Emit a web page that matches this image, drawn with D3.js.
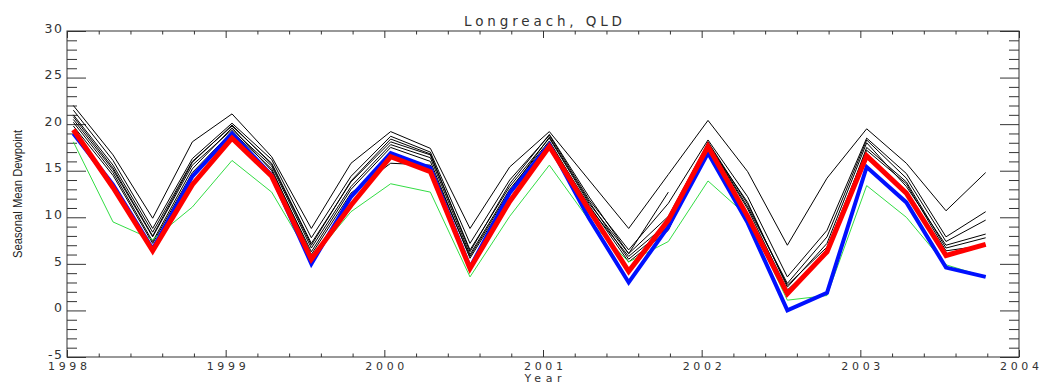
<!DOCTYPE html>
<html>
<head>
<meta charset="utf-8">
<style>
  body { margin: 0; background: white; }
  svg { display: block; }
  .lbl { font-family: "DejaVu Sans", sans-serif; font-weight: normal; fill: #333; }
  .axis path { display: none; }
  .axis line { stroke: #333; }
</style>
<script src="https://cdn.jsdelivr.net/npm/d3@7"></script>
</head>
<body>
<svg id="chart" width="1039" height="385"></svg>
<script>
// season centres (DJF, MAM, JJA, SON) for 1998-2003
let seasons = [1998.04, 1998.29, 1998.54, 1998.79,
               1999.04, 1999.29, 1999.54, 1999.79,
               2000.04, 2000.29, 2000.54, 2000.79,
               2001.04, 2001.29, 2001.54, 2001.79,
               2002.04, 2002.29, 2002.54, 2002.79,
               2003.04, 2003.29, 2003.54, 2003.79]

// ensemble members (thin black)
let black1 = [22.0, 16.7, 9.9, 18.1, 21.1, 16.5, 8.8, 15.8, 19.2, 17.4, 8.8, 15.4, 19.2, 14.0, 8.8, 14.6, 20.4, 14.9, 7.0, 14.2, 19.5, 15.8, 10.7, 14.8]
let black2 = [21.5, 16.1, 8.8, 16.3, 20.1, 16.2, 7.8, 14.4, 18.7, 17.0, 7.2, 14.0, 18.8, 11.9, 6.5, 11.5, 18.3, 12.2, 3.6, 8.6, 18.5, 14.7, 7.9, 10.6]
let black3 = [21.0, 15.6, 8.4, 16.0, 19.8, 15.8, 7.2, 13.8, 18.1, 16.7, 6.5, 13.3, 18.5, 11.5, 6.1, 10.1, 18.0, 11.1, 2.9, 7.9, 18.3, 14.2, 7.4, 9.7]
let black4 = [20.5, 15.1, 7.9, 15.6, 19.4, 15.5, 6.7, 13.3, 17.8, 16.4, 6.0, 13.0, 18.2, 11.1, 5.8, 9.4, 17.8, 11.6, 2.5, 7.2, 18.0, 13.3, 7.0, 8.2]
let black5 = [20.2, 14.8, 7.4, 15.2, 19.6, 15.0, 6.3, 13.0, 17.5, 16.0, 5.6, 12.5, 18.0, 11.3, 5.2, 8.6, 17.9, 10.9, 2.2, 6.1, 17.5, 13.8, 6.7, 7.8]
let black6 = [19.8, 14.5, 7.2, 14.8, 19.2, 15.2, 6.0, 12.6, 15.8, 15.6, 5.8, 12.8, 18.6, 11.7, 5.5, 9.0, 18.1, 11.4, 2.7, 6.8, 17.2, 13.6, 6.4, 7.0]
let black7 = [20.8, 15.3, 8.0, 15.9, 19.9, 15.7, 7.0, 13.9, 18.4, 16.8, 6.3, 13.6, 18.9, 12.2, 6.1, 12.7, null, null, null, null, null, null, null, null]

let green = [18.1, 9.5, 7.6, 11.1, 16.1, 12.7, 5.5, 10.6, 13.6, 12.7, 3.6, 10.1, 15.6, 9.7, 5.2, 7.4, 13.9, 10.1, 1.1, 1.6, 13.4, 10.0, 4.9, 3.6]
let blue  = [19.0, 13.5, 6.6, 14.4, 19.0, 14.5, 5.0, 12.2, 16.9, 15.3, 4.6, 12.6, 17.8, 9.9, 3.0, 9.0, 16.9, 9.4, 0.0, 1.9, 15.4, 11.6, 4.6, 3.6]
let red   = [19.4, 13.2, 6.4, 13.5, 18.5, 14.4, 5.5, 11.3, 16.5, 14.9, 4.5, 11.7, 17.6, 10.8, 4.2, 9.7, 17.6, 10.1, 1.8, 6.3, 16.6, 12.6, 5.9, 7.1]

let yearTicks = [1998, 1999, 2000, 2001, 2002, 2003, 2004]
let dewTicks = [-5, 0, 5, 10, 15, 20, 25, 30]

let svg = d3.select("#chart")
let plotL = 67, plotR = 1019, plotT = 31, plotB = 357

let x = d3.scaleLinear().domain([1998, 2004]).range([plotL, plotR])
let y = d3.scaleLinear().domain([-5, 30]).range([plotB, plotT])

let minorX = d3.range(1998, 2004.001, 0.2).filter(v => Math.abs(v - Math.round(v)) > 0.01)
let minorY = d3.range(-5, 30.001, 1).filter(v => v % 5 != 0)

// frame
svg.append("rect")
   .attr("x", plotL).attr("y", plotT)
   .attr("width", plotR - plotL).attr("height", plotB - plotT)
   .attr("fill", "none").attr("stroke", "#333")

function addAxis(axis, tx, ty, labels) {
  let g = svg.append("g").attr("class", "axis")
     .attr("transform", "translate(" + tx + "," + ty + ")")
     .call(axis)
  if (!labels) g.selectAll("text").remove()
  return g
}

// bottom / top
let xb = addAxis(d3.axisBottom(x).tickValues(yearTicks).tickSize(-7).tickPadding(5).tickFormat(d => d), 0, plotB, true)
xb.selectAll("text").attr("class", "lbl").attr("font-size", 11).attr("textLength", 39).attr("lengthAdjust", "spacing")
addAxis(d3.axisBottom(x).tickValues(minorX).tickSize(-3.5).tickFormat(""), 0, plotB, false)
addAxis(d3.axisTop(x).tickValues(yearTicks).tickSize(-7), 0, plotT, false)
addAxis(d3.axisTop(x).tickValues(minorX).tickSize(-3.5).tickFormat(""), 0, plotT, false)

// left / right
let yl = addAxis(d3.axisLeft(y).tickValues(dewTicks).tickSize(-19).tickPadding(5).tickFormat(d => d), plotL, 0, true)
yl.selectAll("text").attr("class", "lbl").attr("font-size", 12.5).attr("dy", "0.1em")
  .attr("letter-spacing", 1.5).attr("dx", 1.5)
addAxis(d3.axisLeft(y).tickValues(minorY).tickSize(-10).tickFormat(""), plotL, 0, false)
addAxis(d3.axisRight(y).tickValues(dewTicks).tickSize(-19), plotR, 0, false)
addAxis(d3.axisRight(y).tickValues(minorY).tickSize(-10).tickFormat(""), plotR, 0, false)

// series
let line = d3.line()
    .defined(d => d[1] != null)
    .x(d => x(d[0]))
    .y(d => y(d[1]))

function draw(values, color, width) {
  svg.append("path")
     .datum(seasons.map((s, i) => [s, values[i]]))
     .attr("d", line)
     .attr("fill", "none")
     .attr("stroke", color)
     .attr("stroke-width", width)
     .attr("stroke-linejoin", "miter")
}

[black1, black2, black3, black4, black5, black6, black7].forEach(b => draw(b, "#000", 1))
draw(green, "#33dd44", 1)
draw(blue, "#0010ff", 4)
draw(red, "#ff0000", 5)

// titles
svg.append("text").attr("class", "lbl")
   .attr("x", (plotL + plotR) / 2).attr("y", 26)
   .attr("text-anchor", "middle").attr("font-size", 13.5)
   .attr("textLength", 158).attr("lengthAdjust", "spacing")
   .text("Longreach, QLD")

svg.append("text").attr("class", "lbl")
   .attr("x", (plotL + plotR) / 2).attr("y", 382)
   .attr("text-anchor", "middle").attr("font-size", 11)
   .attr("textLength", 37).attr("lengthAdjust", "spacing")
   .text("Year")

svg.append("text")
   .attr("transform", "translate(22," + (plotT + plotB) / 2 + ") rotate(-90)")
   .attr("text-anchor", "middle")
   .attr("font-family", "Liberation Sans Narrow, Liberation Sans, sans-serif")
   .attr("font-size", 12.5).attr("fill", "#222")
   .attr("textLength", 128).attr("lengthAdjust", "spacingAndGlyphs")
   .text("Seasonal Mean Dewpoint")
</script>
</body>
</html>
